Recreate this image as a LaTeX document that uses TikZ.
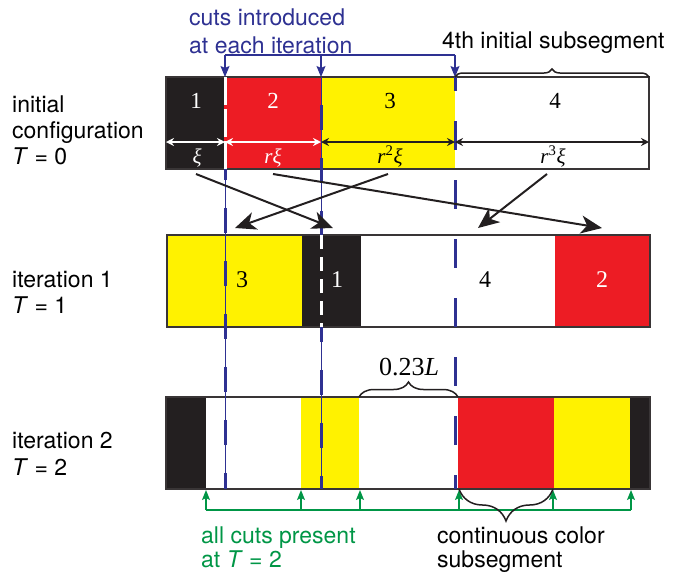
\documentclass[tikz,border=0pt]{standalone}
\usepackage{fontspec}
\setmainfont{Liberation Serif}
\setsansfont{TeX Gyre Heros}
\usetikzlibrary{arrows.meta,decorations.pathreplacing}
\definecolor{cblack}{RGB}{35,31,32}
\definecolor{cred}{RGB}{237,28,36}
\definecolor{cyellow}{RGB}{255,242,0}
\definecolor{cblue}{RGB}{46,49,146}
\definecolor{cgreen}{RGB}{0,150,70}
\begin{document}
\begin{tikzpicture}[x=1pt,y=-1pt,
  sanslab/.style={font=\sffamily\fontsize{23}{27}\selectfont, anchor=base west, inner sep=0pt},
  numlab/.style={font=\fontsize{23}{27}\selectfont, anchor=base, inner sep=0pt},
  numlabb/.style={font=\fontsize{24}{28}\selectfont, anchor=base, inner sep=0pt},
  seglab/.style={font=\fontsize{21}{24}\selectfont, anchor=base, inner sep=0pt},
  outline/.style={draw=cblack!90, line width=1.3pt},
  bigarrow/.style={-{Stealth[length=21pt,width=18pt,inset=6pt]}, line width=2pt, cblack},
  dimarrow/.style={{Stealth[length=8pt,width=8pt]}-{Stealth[length=8pt,width=8pt]}, line width=1.5pt},
  thincut/.style={cblue, line width=0.9pt},
  thickcut/.style={cblue, line width=3pt, dash pattern=on 25pt off 28pt},
  thickcutb/.style={cblue, line width=3pt, dash pattern=on 29pt off 30pt},
  whitecut/.style={white, line width=3pt, dash pattern=on 28pt off 4pt},
  bluearrow/.style={cblue, line width=1.2pt, -{Stealth[length=11pt,width=9pt,inset=2pt]}},
  greenarrow/.style={cgreen, line width=1.2pt, -{Stealth[length=10pt,width=8pt,inset=2pt]}},
  bracestyle/.style={draw=cblack, line width=1.5pt, decorate}
]
\useasboundingbox (0,0) rectangle (678,574);
% ---------- row 1 ----------
\fill[cblack] (166,77) rectangle (224,169);
\fill[cred] (224,77) rectangle (321,169);
\fill[cyellow] (321,77) rectangle (455,169);
\fill[white] (455,77) rectangle (649,169);
\draw[outline] (166,77) rectangle (649,169);
% ---------- row 2 ----------
\fill[cyellow] (167,235) rectangle (302,327);
\fill[cblack] (302,235) rectangle (361,327);
\fill[white] (361,235) rectangle (555,327);
\fill[cred] (555,235) rectangle (650,327);
\draw[outline] (167,235) rectangle (650,327);
% ---------- row 3 ----------
\fill[cblack] (166,397) rectangle (206,489);
\fill[white] (206,397) rectangle (301,489);
\fill[cyellow] (301,397) rectangle (359,489);
\fill[white] (359,397) rectangle (458,489);
\fill[cred] (458,397) rectangle (554,489);
\fill[cyellow] (554,397) rectangle (630,489);
\fill[cblack] (630,397) rectangle (650,489);
\draw[outline] (166,397) rectangle (650,489);
% ---------- cut lines ----------
\coordinate (c1top) at (225,77);
\coordinate (c2top) at (321,77);
\coordinate (c3top) at (455,77);
\coordinate (c1a) at (225,169);
\coordinate (c1bot) at (225,489);
\coordinate (c2a) at (321,235);
\coordinate (c2b) at (321,327);
\coordinate (c2bot) at (321,489);
\coordinate (c3bot) at (455,489);
\draw[whitecut] (c1top) -- (c1a);
\draw[thincut] (c1a) -- (c1bot);
\draw[thickcut, dash phase=14pt] (c1a) -- (c1bot);
\draw[thincut] (c2top) -- (c2a);
\draw[thincut] (c2b) -- (c2bot);
\draw[thickcut, dash phase=25pt] (c2top) -- (c2a);
\draw[whitecut, dash pattern=on 14pt off 8pt] (c2a) -- (c2b);
\draw[thickcut, dash phase=10pt] (c2b) -- (c2bot);
\draw[thickcutb, dash phase=15pt] (c3top) -- (c3bot);
% ---------- top blue annotation ----------
\node[sanslab, text=cblue] (cutsA) at (189,25) {cuts introduced};
\node[sanslab, text=cblue] (cutsB) at (189,53) {at each iteration};
\coordinate (b1) at (225,55);
\coordinate (b2) at (321,55);
\coordinate (b3) at (455,55);
\draw[cblue, line width=1.2pt] (b1) -- (b3);
\draw[bluearrow] (b1) -- (c1top);
\draw[bluearrow] (b2) -- (c2top);
\draw[bluearrow] (b3) -- (c3top);
% ---------- 4th subsegment brace ----------
\node[sanslab] (fourth) at (442,48) {4th initial subsegment};
\coordinate (br1a) at (455,77);
\coordinate (br1b) at (649,77);
\draw[bracestyle, decoration={brace, amplitude=8pt}] (br1a) -- (br1b);
% ---------- row labels ----------
\node[sanslab] (l0a) at (12,112) {initial};
\node[sanslab] (l0b) at (12,138) {configuration};
\node[sanslab] (l0c) at (12,164) {\textit{T} = 0};
\node[sanslab] (l1a) at (12,287) {iteration 1};
\node[sanslab] (l1b) at (12,313) {\textit{T} = 1};
\node[sanslab] (l2a) at (12,448) {iteration 2};
\node[sanslab] (l2b) at (12,475) {\textit{T} = 2};
% ---------- row 1 numbers and lengths ----------
\node[numlab, text=white] (n11) at (196,108) {1};
\node[numlab, text=white] (n12) at (273,108) {2};
\node[numlab] (n13) at (390,108) {3};
\node[numlab] (n14) at (555,108) {4};
\coordinate (d0) at (166,142);
\coordinate (d1) at (225,142);
\coordinate (d2) at (321,142);
\coordinate (d3) at (455,142);
\coordinate (d4) at (649,142);
\draw[dimarrow, white] (d0) -- (d1);
\draw[dimarrow, white] (d1) -- (d2);
\draw[dimarrow, cblack] (d2) -- (d3);
\draw[dimarrow, cblack] (d3) -- (d4);
\node[seglab, text=white] (s1) at (197,163) {\textit{ξ}};
\node[seglab, text=white] (s2) at (273,163) {\textit{rξ}};
\node[seglab] (s3) at (390,163) {\textit{r}\textsuperscript{2}\textit{ξ}};
\node[seglab] (s4) at (553,163) {\textit{r}\textsuperscript{3}\textit{ξ}};
% ---------- row 2 numbers ----------
\node[numlabb] (n21) at (242,287) {3};
\node[numlabb, text=white] (n22) at (337,287) {1};
\node[numlabb] (n23) at (485,287) {4};
\node[numlabb, text=white] (n24) at (602,287) {2};
% ---------- permutation arrows ----------
\coordinate (pa1) at (196,174); \coordinate (pa2) at (333,228);
\coordinate (pb1) at (273,174); \coordinate (pb2) at (602,228);
\coordinate (pc1) at (388,174); \coordinate (pc2) at (235,228);
\coordinate (pd1) at (547,174); \coordinate (pd2) at (478,228);
\draw[bigarrow] (pa1) -- (pa2);
\draw[bigarrow] (pb1) -- (pb2);
\draw[bigarrow] (pc1) -- (pc2);
\draw[bigarrow] (pd1) -- (pd2);
% ---------- 0.23L brace ----------
\coordinate (br2a) at (359,397);
\coordinate (br2b) at (458,397);
\draw[bracestyle, decoration={brace, amplitude=15pt}] (br2a) -- (br2b);
\node[font=\fontsize{26}{30}\selectfont, anchor=base, inner sep=0pt] (len) at (409,375) {0.23\textit{L}};
% ---------- green cuts ----------
\foreach \i/\x in {1/206,2/301,3/360,4/459,5/553,6/631}{
  \coordinate (gb\i) at (\x,510);
  \coordinate (gt\i) at (\x,490);
}
\draw[cgreen, line width=1.2pt] (gb1) -- (gb6);
\foreach \i in {1,...,6}{\draw[greenarrow] (gb\i) -- (gt\i);}
\node[sanslab, text=cgreen] (gA) at (201,543) {all cuts present};
\node[sanslab, text=cgreen] (gB) at (201,567) {at \textit{T} = 2};
% ---------- continuous colour brace ----------
\coordinate (br3a) at (553,489);
\coordinate (br3b) at (459,489);
\draw[bracestyle, decoration={brace, amplitude=32pt, aspect=0.5}] (br3a) -- (br3b);
\node[sanslab] (ccA) at (437,543) {continuous color};
\node[sanslab] (ccB) at (437,567) {subsegment};
\end{tikzpicture}
\end{document}
